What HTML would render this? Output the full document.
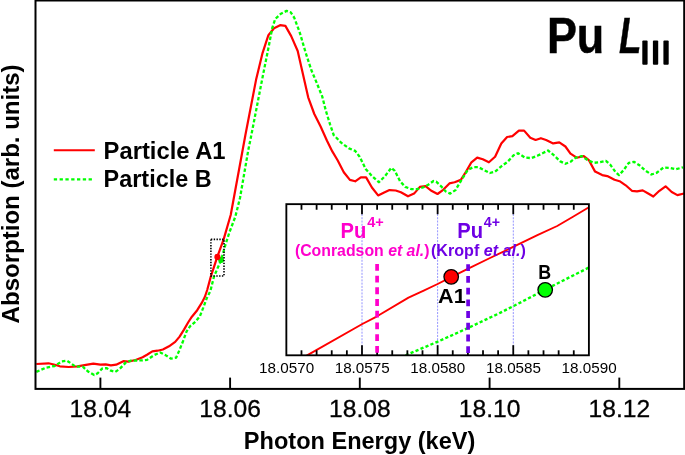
<!DOCTYPE html>
<html><head><meta charset="utf-8"><title>Pu LIII XANES</title>
<style>html,body{margin:0;padding:0;background:#fff}svg{display:block;will-change:transform}text{font-family:"Liberation Sans",sans-serif}</style></head><body>
<svg width="685" height="455" viewBox="0 0 685 455">
<rect x="0" y="0" width="685" height="455" fill="#fff"/>
<polyline points="36.3,364.0 48.5,363.3 53.8,364.5 59.9,366.3 68.7,367.0 77.5,366.3 84.5,365.1 93.3,363.7 100.4,364.7 105.7,364.4 110.9,365.3 116.2,364.7 123.3,361.2 128.5,361.6 135.6,360.0 142.6,357.2 147.0,354.8 152.3,351.4 157.6,350.7 162.9,349.5 169.0,346.3 175.2,341.9 179.6,336.6 184.0,329.6 188.4,322.0 191.9,316.7 197.2,310.2 201.6,303.2 204.8,297.0 207.2,290.0 210.8,276.6 217.2,257.2 223.7,239.1 230.7,215.0 245.4,135.0 256.0,80.1 262.6,52.8 268.4,35.2 274.0,28.2 280.1,25.2 285.4,25.9 291.2,36.1 297.7,51.0 302.0,70.0 308.2,97.3 314.3,114.0 320.5,126.3 327.0,140.8 332.3,151.4 337.6,160.2 343.8,172.2 349.9,179.9 355.2,181.3 360.8,177.4 366.1,177.4 371.9,187.5 378.1,195.4 384.2,192.4 389.5,190.1 395.7,190.5 400.9,192.2 408.0,196.3 414.1,193.6 419.9,186.9 425.6,186.1 430.9,190.5 437.5,194.0 443.2,189.8 449.4,183.4 454.6,182.2 460.8,179.9 466.1,171.6 471.4,162.3 477.2,157.6 482.8,159.3 488.9,162.3 495.1,156.7 501.3,143.5 507.1,137.0 512.4,136.1 518.9,130.6 524.1,130.6 530.3,137.7 535.6,140.0 540.9,138.2 546.1,140.0 553.2,143.4 559.3,142.4 565.4,146.5 570.5,153.6 576.7,157.7 583.8,156.1 588.9,160.2 595.1,171.6 602.2,175.1 607.3,176.1 614.5,179.8 619.6,181.2 625.7,185.3 631.9,190.8 637.0,191.4 642.7,190.4 648.2,193.5 653.3,196.5 659.4,190.8 665.6,186.3 671.7,192.0 677.4,195.1 684,193.5" fill="none" stroke="#ff0000" stroke-width="2.2" stroke-linejoin="round"/>
<polyline points="36.3,371.9 45.8,367.7 54.6,366.0 61.7,361.4 67.0,360.7 71.4,363.7 75.7,366.7 82.8,366.7 88.1,371.6 94.2,375.1 97.7,373.3 102.1,368.6 106.5,368.1 110.9,370.7 115.3,371.9 119.7,368.9 125.9,362.4 130.3,360.7 135.6,360.5 142.6,360.4 147.0,359.9 154.1,355.1 160.2,352.5 165.5,355.1 170.8,358.6 176.1,357.7 179.6,349.8 183.1,341.0 186.6,331.4 190.2,326.1 195.4,321.7 199.8,316.4 203.3,307.6 206.9,297.9 210.4,290.9 214.0,276.6 221.1,260.0 225.4,244.9 229.5,232.0 235.3,216.8 240.0,198.0 248.3,150.0 251.0,136.8 262.0,80.1 268.5,47.5 272.2,28.2 275.2,19.0 280.5,14.0 286.6,10.9 290.7,12.3 294.2,17.6 299.5,31.7 305.7,52.8 311.3,70.0 316.1,81.4 322.2,96.4 325.8,110.5 330.1,124.5 333.7,135.1 341.1,142.6 349.0,148.4 355.2,150.9 359.6,156.7 365.7,169.0 371.9,176.0 378.9,182.2 385.1,176.0 391.3,167.8 394.8,170.8 400.1,181.3 405.3,186.9 411.5,189.2 416.8,189.2 422.9,187.5 428.2,184.8 433.5,181.0 436.2,181.7 441.4,186.6 445.8,191.5 450.2,193.6 455.5,190.1 461.7,179.5 467.8,169.9 473.1,167.2 478.4,167.2 483.7,169.9 489.8,173.0 495.1,171.6 501.3,166.4 507.4,162.0 513.6,155.3 518.0,153.2 525.0,157.6 531.2,158.1 537.3,155.8 543.5,152.8 548,150.5 553.2,154.6 560.3,161.4 565.4,163.8 570.5,161.8 575.7,157.7 581.8,156.1 587.9,160.2 594.0,162.8 600.2,162.2 605.9,160.8 610.4,164.9 615.5,172.0 619.0,175.1 623.7,170.0 628.8,162.8 633.9,161.8 639.0,164.9 645.1,170.4 651.3,174.5 656.4,173.0 663.5,167.5 669.7,167.9 675.8,169.3 683,167.3" fill="none" stroke="#00ff00" stroke-width="2.3" stroke-dasharray="3.5 2.1" stroke-linejoin="round"/>
<circle cx="221.1" cy="260.0" r="2.9" fill="#00ee00"/>
<circle cx="217.4" cy="256.9" r="3.1" fill="#ff0000"/>
<rect x="210.9" y="239.4" width="13.1" height="36.6" fill="none" stroke="#000" stroke-width="1.6" stroke-dasharray="1.4 1.4"/>
<rect x="35.5" y="0.5" width="648.7" height="388.4" fill="none" stroke="#000" stroke-width="2.0"/>
<line x1="100.4" y1="388.9" x2="100.4" y2="377.6" stroke="#000" stroke-width="1.9"/>
<text x="100.4" y="417" font-size="24.6" text-anchor="middle" textLength="61.6" lengthAdjust="spacingAndGlyphs" stroke="#000" stroke-width="0.3">18.04</text>
<line x1="230.1" y1="388.9" x2="230.1" y2="377.6" stroke="#000" stroke-width="1.9"/>
<text x="230.1" y="417" font-size="24.6" text-anchor="middle" textLength="61.6" lengthAdjust="spacingAndGlyphs" stroke="#000" stroke-width="0.3">18.06</text>
<line x1="359.8" y1="388.9" x2="359.8" y2="377.6" stroke="#000" stroke-width="1.9"/>
<text x="359.8" y="417" font-size="24.6" text-anchor="middle" textLength="61.6" lengthAdjust="spacingAndGlyphs" stroke="#000" stroke-width="0.3">18.08</text>
<line x1="489.6" y1="388.9" x2="489.6" y2="377.6" stroke="#000" stroke-width="1.9"/>
<text x="489.6" y="417" font-size="24.6" text-anchor="middle" textLength="61.6" lengthAdjust="spacingAndGlyphs" stroke="#000" stroke-width="0.3">18.10</text>
<line x1="619.3" y1="388.9" x2="619.3" y2="377.6" stroke="#000" stroke-width="1.9"/>
<text x="619.3" y="417" font-size="24.6" text-anchor="middle" textLength="61.6" lengthAdjust="spacingAndGlyphs" stroke="#000" stroke-width="0.3">18.12</text>
<text x="359.6" y="449.4" font-size="23" font-weight="bold" text-anchor="middle" textLength="231.5" lengthAdjust="spacingAndGlyphs">Photon Energy (keV)</text>
<text transform="translate(18.7,193.9) rotate(-90)" font-size="23" font-weight="bold" text-anchor="middle" textLength="259" lengthAdjust="spacingAndGlyphs">Absorption (arb. units)</text>
<line x1="53.8" y1="150.2" x2="94.8" y2="150.2" stroke="#ff0000" stroke-width="1.85"/>
<line x1="53.8" y1="179.3" x2="92.4" y2="179.3" stroke="#00ff00" stroke-width="2.3" stroke-dasharray="3.3 2.5"/>
<text x="103.6" y="158.5" font-size="23.5" font-weight="bold" textLength="122" lengthAdjust="spacingAndGlyphs">Particle A1</text>
<text x="103.6" y="187.0" font-size="23.5" font-weight="bold" textLength="108" lengthAdjust="spacingAndGlyphs">Particle B</text>
<text x="546.9" y="52.9" font-size="49.2" font-weight="bold" textLength="57.4" stroke="#000" stroke-width="0.5" lengthAdjust="spacingAndGlyphs">Pu</text>
<text x="618.9" y="52.9" font-size="49.2" font-weight="bold" font-style="italic" textLength="22.4" stroke="#000" stroke-width="0.5" lengthAdjust="spacingAndGlyphs">L</text>
<rect x="642.3" y="40.6" width="5.3" height="24.2" rx="1" fill="#000"/>
<rect x="652.9" y="40.6" width="5.3" height="24.2" rx="1" fill="#000"/>
<rect x="663.4" y="40.6" width="5.3" height="24.2" rx="1" fill="#000"/>
<rect x="286.35" y="204.15" width="302.54999999999995" height="151.15" fill="#fff"/>
<line x1="362.0" y1="204.15" x2="362.0" y2="355.3" stroke="#3a3aff" stroke-width="0.55" stroke-dasharray="2.0 1.27"/>
<line x1="437.6" y1="204.15" x2="437.6" y2="355.3" stroke="#3a3aff" stroke-width="0.55" stroke-dasharray="2.0 1.27"/>
<line x1="513.3" y1="204.15" x2="513.3" y2="355.3" stroke="#3a3aff" stroke-width="0.55" stroke-dasharray="2.0 1.27"/>
<clipPath id="ic"><rect x="286.35" y="204.15" width="302.54999999999995" height="151.15"/></clipPath>
<g clip-path="url(#ic)">
<polyline points="306.6,355.7 362.3,324.0 377.1,316.3 408.5,297.6 423.7,290.6 437.6,284.0 451.2,277.1 468.2,268.7 490,258.0 513.7,246.7 537.4,235.2 557.2,226.0 573.0,216.7 588.9,207.3" fill="none" stroke="#ff0000" stroke-width="1.9" stroke-linejoin="round"/>
<polyline points="405.6,355.3 438.8,341.2 467.8,328.1 500,312.9 517.6,304 545.2,289.6 588.8,267.6" fill="none" stroke="#00ff00" stroke-width="2.4" stroke-dasharray="3.2 2.2"/>
</g>
<rect x="286.35" y="204.15" width="302.54999999999995" height="151.15" fill="none" stroke="#000" stroke-width="1.85"/>
<line x1="301.48" y1="204.15" x2="301.48" y2="209.75" stroke="#000" stroke-width="1.8"/>
<line x1="301.48" y1="355.3" x2="301.48" y2="350.3" stroke="#000" stroke-width="1.8"/>
<line x1="316.61" y1="204.15" x2="316.61" y2="209.75" stroke="#000" stroke-width="1.8"/>
<line x1="316.61" y1="355.3" x2="316.61" y2="350.3" stroke="#000" stroke-width="1.8"/>
<line x1="331.73" y1="204.15" x2="331.73" y2="209.75" stroke="#000" stroke-width="1.8"/>
<line x1="331.73" y1="355.3" x2="331.73" y2="350.3" stroke="#000" stroke-width="1.8"/>
<line x1="346.86" y1="204.15" x2="346.86" y2="209.75" stroke="#000" stroke-width="1.8"/>
<line x1="346.86" y1="355.3" x2="346.86" y2="350.3" stroke="#000" stroke-width="1.8"/>
<line x1="361.99" y1="204.15" x2="361.99" y2="214.25" stroke="#000" stroke-width="1.8"/>
<line x1="361.99" y1="355.3" x2="361.99" y2="345.2" stroke="#000" stroke-width="1.8"/>
<line x1="377.12" y1="204.15" x2="377.12" y2="209.75" stroke="#000" stroke-width="1.8"/>
<line x1="377.12" y1="355.3" x2="377.12" y2="350.3" stroke="#000" stroke-width="1.8"/>
<line x1="392.24" y1="204.15" x2="392.24" y2="209.75" stroke="#000" stroke-width="1.8"/>
<line x1="392.24" y1="355.3" x2="392.24" y2="350.3" stroke="#000" stroke-width="1.8"/>
<line x1="407.37" y1="204.15" x2="407.37" y2="209.75" stroke="#000" stroke-width="1.8"/>
<line x1="407.37" y1="355.3" x2="407.37" y2="350.3" stroke="#000" stroke-width="1.8"/>
<line x1="422.50" y1="204.15" x2="422.50" y2="209.75" stroke="#000" stroke-width="1.8"/>
<line x1="422.50" y1="355.3" x2="422.50" y2="350.3" stroke="#000" stroke-width="1.8"/>
<line x1="437.62" y1="204.15" x2="437.62" y2="214.25" stroke="#000" stroke-width="1.8"/>
<line x1="437.62" y1="355.3" x2="437.62" y2="345.2" stroke="#000" stroke-width="1.8"/>
<line x1="452.75" y1="204.15" x2="452.75" y2="209.75" stroke="#000" stroke-width="1.8"/>
<line x1="452.75" y1="355.3" x2="452.75" y2="350.3" stroke="#000" stroke-width="1.8"/>
<line x1="467.88" y1="204.15" x2="467.88" y2="209.75" stroke="#000" stroke-width="1.8"/>
<line x1="467.88" y1="355.3" x2="467.88" y2="350.3" stroke="#000" stroke-width="1.8"/>
<line x1="483.01" y1="204.15" x2="483.01" y2="209.75" stroke="#000" stroke-width="1.8"/>
<line x1="483.01" y1="355.3" x2="483.01" y2="350.3" stroke="#000" stroke-width="1.8"/>
<line x1="498.13" y1="204.15" x2="498.13" y2="209.75" stroke="#000" stroke-width="1.8"/>
<line x1="498.13" y1="355.3" x2="498.13" y2="350.3" stroke="#000" stroke-width="1.8"/>
<line x1="513.26" y1="204.15" x2="513.26" y2="214.25" stroke="#000" stroke-width="1.8"/>
<line x1="513.26" y1="355.3" x2="513.26" y2="345.2" stroke="#000" stroke-width="1.8"/>
<line x1="528.39" y1="204.15" x2="528.39" y2="209.75" stroke="#000" stroke-width="1.8"/>
<line x1="528.39" y1="355.3" x2="528.39" y2="350.3" stroke="#000" stroke-width="1.8"/>
<line x1="543.52" y1="204.15" x2="543.52" y2="209.75" stroke="#000" stroke-width="1.8"/>
<line x1="543.52" y1="355.3" x2="543.52" y2="350.3" stroke="#000" stroke-width="1.8"/>
<line x1="558.64" y1="204.15" x2="558.64" y2="209.75" stroke="#000" stroke-width="1.8"/>
<line x1="558.64" y1="355.3" x2="558.64" y2="350.3" stroke="#000" stroke-width="1.8"/>
<line x1="573.77" y1="204.15" x2="573.77" y2="209.75" stroke="#000" stroke-width="1.8"/>
<line x1="573.77" y1="355.3" x2="573.77" y2="350.3" stroke="#000" stroke-width="1.8"/>
<text x="286.6" y="373.2" font-size="15.3" text-anchor="middle" textLength="55" lengthAdjust="spacingAndGlyphs">18.0570</text>
<text x="362.2" y="373.2" font-size="15.3" text-anchor="middle" textLength="55" lengthAdjust="spacingAndGlyphs">18.0575</text>
<text x="437.8" y="373.2" font-size="15.3" text-anchor="middle" textLength="55" lengthAdjust="spacingAndGlyphs">18.0580</text>
<text x="513.5" y="373.2" font-size="15.3" text-anchor="middle" textLength="55" lengthAdjust="spacingAndGlyphs">18.0585</text>
<text x="589.1" y="373.2" font-size="15.3" text-anchor="middle" textLength="55" lengthAdjust="spacingAndGlyphs">18.0590</text>
<line x1="377.1" y1="263.9" x2="377.1" y2="352.9" stroke="#ff00cc" stroke-width="3.7" stroke-dasharray="6.8 4.93"/>
<line x1="468.1" y1="264.2" x2="468.1" y2="353.2" stroke="#6e00e4" stroke-width="3.7" stroke-dasharray="6.8 4.93"/>
<circle cx="451.2" cy="276.8" r="7.25" fill="#ff0000" stroke="#000" stroke-width="1.3"/>
<circle cx="545.2" cy="289.8" r="7.25" fill="#00ff00" stroke="#000" stroke-width="1.3"/>
<text x="438.1" y="303.1" font-size="20.6" font-weight="bold" textLength="27.6" lengthAdjust="spacingAndGlyphs">A1</text>
<text x="538.3" y="278.5" font-size="20.8" font-weight="bold" textLength="12.9" lengthAdjust="spacingAndGlyphs">B</text>
<text x="340.6" y="237.7" font-size="21.7" font-weight="bold" fill="#ff00cc" textLength="25.8" lengthAdjust="spacingAndGlyphs">Pu</text>
<text x="367.2" y="227.3" font-size="14.3" font-weight="bold" fill="#ff00cc" textLength="16.6" lengthAdjust="spacingAndGlyphs">4+</text>
<text x="294.9" y="255.8" font-size="16" font-weight="bold" fill="#ff00cc" textLength="134.6" lengthAdjust="spacingAndGlyphs">(Conradson <tspan font-style="italic">et al.</tspan>)</text>
<text x="457.3" y="237.7" font-size="21.7" font-weight="bold" fill="#6e00e4" textLength="25.8" lengthAdjust="spacingAndGlyphs">Pu</text>
<text x="483.8" y="227.3" font-size="14.3" font-weight="bold" fill="#6e00e4" textLength="16.2" lengthAdjust="spacingAndGlyphs">4+</text>
<text x="431.0" y="255.8" font-size="16" font-weight="bold" fill="#6e00e4" textLength="94.8" lengthAdjust="spacingAndGlyphs">(Kropf <tspan font-style="italic">et al.</tspan>)</text>
</svg></body></html>
